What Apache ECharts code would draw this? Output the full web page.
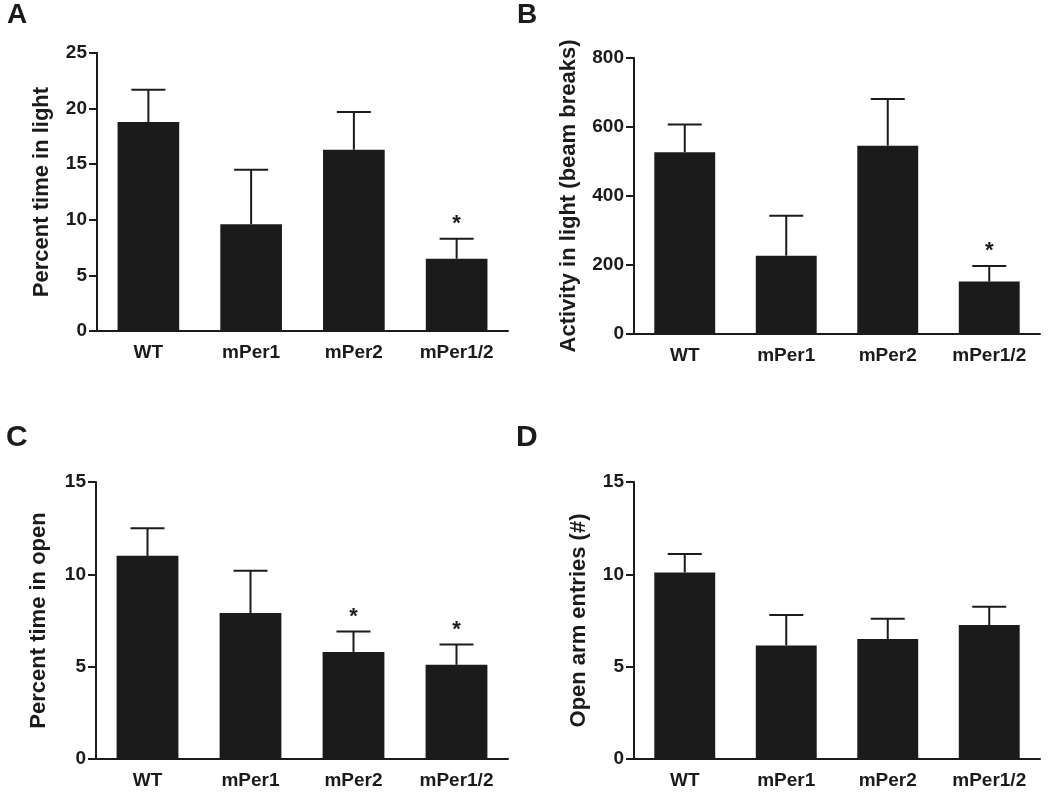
<!DOCTYPE html>
<html><head><meta charset="utf-8">
<script src="https://cdn.jsdelivr.net/npm/echarts@6/dist/echarts.min.js"></script>
<style>html,body{margin:0;padding:0;background:#fff}#c{width:1050px;height:795px}</style>
</head><body><div id="c"></div>
<script>
// ---- data ----
const categories = ['WT', 'mPer1', 'mPer2', 'mPer1/2'];

const lightTimeMean = [18.8, 9.6, 16.3, 6.5];
const lightTimeSem  = [2.9, 4.9, 3.4, 1.8];
const lightTimeStar = [0, 0, 0, 1];

const lightActMean = [527, 227, 546, 152];
const lightActSem  = [80, 116, 135, 45];
const lightActStar = [0, 0, 0, 1];

const openTimeMean = [11.0, 7.9, 5.8, 5.1];
const openTimeSem  = [1.5, 2.3, 1.1, 1.1];
const openTimeStar = [0, 0, 1, 1];

const openEntMean = [10.1, 6.15, 6.5, 7.25];
const openEntSem  = [1.0, 1.65, 1.1, 1.0];
const openEntStar = [0, 0, 0, 0];

const panelLetters = ['A', 'B', 'C', 'D'];
const yNames = ['Percent time in light', 'Activity in light (beam breaks)', 'Percent time in open', 'Open arm entries (#)'];
const yMax = [25, 800, 15, 15];
const yInterval = [5, 200, 5, 5];

// ---- styling ----
const INK = '#1b1b1b';
const FONT = '"Liberation Sans", Arial, Helvetica, sans-serif';

const panels = [
  {mean: lightTimeMean, sem: lightTimeSem, star: lightTimeStar},
  {mean: lightActMean, sem: lightActSem, star: lightActStar},
  {mean: openTimeMean, sem: openTimeSem, star: openTimeStar},
  {mean: openEntMean, sem: openEntSem, star: openEntStar}
];

const grids = [
  {left: 97, right: 542, top: 53, bottom: 464},
  {left: 634, right: 10, top: 58, bottom: 461},
  {left: 96, right: 542, top: 482, bottom: 36},
  {left: 634, right: 10, top: 482, bottom: 36}
];
const nameGaps = [44, 54, 46, 44];
const titlePos = [
  {left: 7, top: 1, size: 28}, {left: 517, top: 1, size: 28},
  {left: 6, top: 423, size: 30}, {left: 516, top: 423, size: 30}
];

function errRender(params, api) {
  const i = api.value(0), m = api.value(1), e = api.value(2), s = api.value(3);
  const base = api.coord([i, m]);
  const top = api.coord([i, m + e]);
  const half = 17;
  const children = [
    {type: 'line', shape: {x1: base[0], y1: base[1], x2: top[0], y2: top[1]}, style: {stroke: INK, lineWidth: 2}},
    {type: 'line', shape: {x1: top[0] - half, y1: top[1], x2: top[0] + half, y2: top[1]}, style: {stroke: INK, lineWidth: 2}}
  ];
  if (s) {
    children.push({type: 'text', x: top[0], y: top[1] - 15,
      style: {text: '*', fontSize: 22, fontWeight: 'bold', fontFamily: FONT, fill: INK, align: 'center', verticalAlign: 'middle'}});
  }
  return {type: 'group', children};
}

const option = {
  backgroundColor: '#fff',
  animation: false,
  title: panelLetters.map((t, k) => ({
    text: t, left: titlePos[k].left, top: titlePos[k].top, padding: 0,
    textStyle: {fontSize: titlePos[k].size, fontWeight: 'bold', color: INK, fontFamily: FONT}
  })),
  grid: grids,
  xAxis: grids.map((g, k) => ({
    type: 'category', gridIndex: k, data: categories,
    axisLine: {lineStyle: {color: INK, width: 2}},
    axisTick: {alignWithLabel: true, length: 8, lineStyle: {color: INK, width: 2}},
    axisLabel: {margin: 12, fontSize: 19, fontWeight: 'bold', color: INK, fontFamily: FONT},
    splitLine: {show: false}
  })),
  yAxis: grids.map((g, k) => ({
    type: 'value', gridIndex: k, min: 0, max: yMax[k], interval: yInterval[k],
    name: yNames[k], nameLocation: 'middle', nameGap: nameGaps[k],
    nameTextStyle: {fontSize: 22, fontWeight: 'bold', color: INK, fontFamily: FONT},
    axisLine: {show: true, lineStyle: {color: INK, width: 2}},
    axisTick: {show: true, length: 8, lineStyle: {color: INK, width: 2}},
    axisLabel: {margin: 10, fontSize: 19, fontWeight: 'bold', color: INK, fontFamily: FONT},
    splitLine: {show: false}
  })),
  series: []
};

panels.forEach((p, k) => {
  option.series.push({
    type: 'bar', xAxisIndex: k, yAxisIndex: k, data: p.mean,
    barWidth: '60%', itemStyle: {color: INK}, z: 2
  });
  option.series.push({
    type: 'custom', xAxisIndex: k, yAxisIndex: k, z: 3,
    renderItem: errRender,
    encode: {x: 0, y: 1},
    data: p.mean.map((m, i) => [i, m, p.sem[i], p.star[i]])
  });
});

const chart = echarts.init(document.getElementById('c'), null, {renderer: 'canvas'});
chart.setOption(option);
</script>
</body></html>
